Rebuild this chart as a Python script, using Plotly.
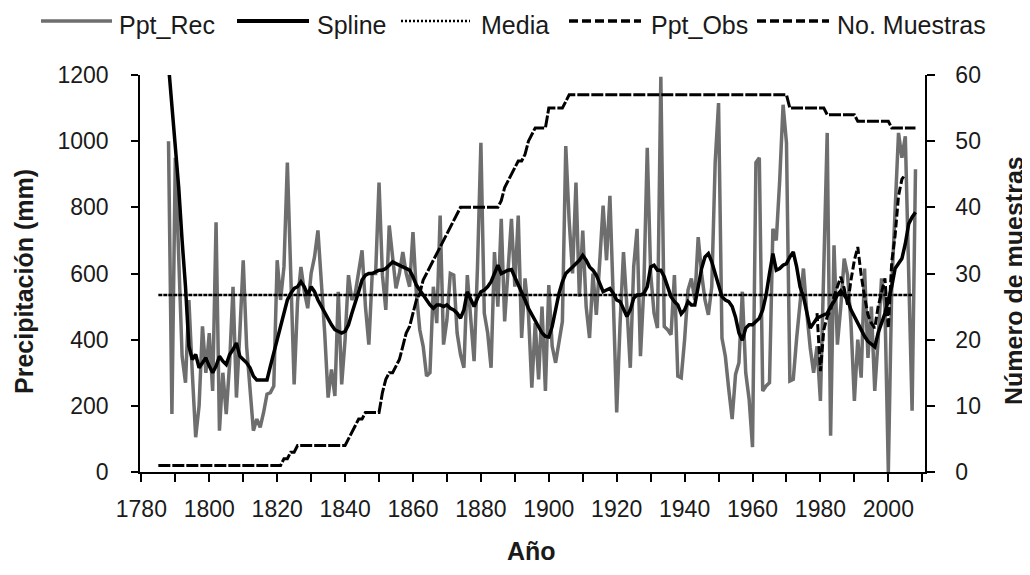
import plotly.graph_objects as go

# ---------------- data ----------------
rec_start = 1788
ppt_rec = [
    1000, 175,
    950, 620, 350, 270, 520, 300, 105, 200, 440, 300,
    420, 245, 755, 125, 300, 175, 330, 560, 225, 420,
    640, 380, 240, 125, 160, 135, 180, 235, 240, 260,
    640, 520, 620, 935, 600, 265, 515, 620, 545, 495,
    600, 650, 730, 580, 420, 225, 310, 230, 545, 265,
    400, 595, 520, 540, 600, 670, 500, 385, 600, 600,
    875, 595, 490, 745, 650, 555, 600, 665, 600, 560,
    725, 540, 430, 380, 290, 300, 560, 450, 775, 385,
    460, 600, 595, 420, 355, 315, 595, 470, 335, 620,
    995, 480, 420, 315, 665, 500, 765, 455, 600, 765,
    560, 775, 405, 585, 480, 255, 450, 280, 500, 245,
    565, 380, 330, 400, 455, 985, 760, 600, 875, 530,
    730, 500, 405, 600, 475, 635, 805, 640, 835, 520,
    180, 450, 665, 500, 315, 620, 735, 350, 560, 980,
    600, 480, 435, 1195, 440, 430, 415, 595, 290, 285,
    400, 550, 585, 520, 710, 600, 520, 475, 560, 935,
    1115, 405, 350, 250, 160, 295, 330, 545, 300, 220,
    75, 935, 950, 245, 260, 270, 735, 700, 880, 1110,
    995, 275, 280, 405, 500, 615, 480, 375, 300, 380,
    215, 620, 1025, 110, 685, 385, 500, 645, 595, 450,
    215, 400, 285, 615, 345, 500, 245, 400, 585, 500,
    0, 560, 800, 1025, 950, 1015, 600, 185, 915,
]
spline = [
    1230, 1110,
    980, 860, 700, 560, 380, 340, 355, 315, 330, 345,
    320, 300, 320, 350, 335, 325, 355, 370, 390, 350,
    340, 330, 315, 290, 278, 278, 278, 278, 320, 360,
    400, 440, 480, 520, 540, 555, 560, 575, 560, 535,
    560, 545, 520, 500, 485, 465, 445, 430, 425, 420,
    425, 445, 480, 510, 545, 580, 595, 600, 600, 605,
    610, 610, 615, 625, 635, 630, 625, 620, 615, 610,
    590, 565, 550, 535, 520, 505, 495, 505, 505, 500,
    505, 495, 490, 480, 465, 490, 545, 520, 500, 525,
    545, 550, 560, 575, 600, 625, 600, 605, 610, 612,
    590, 570, 545, 520, 495, 475, 460, 440, 420, 410,
    408, 440, 490, 540, 575, 600, 610, 620, 630, 640,
    655, 640, 620, 610, 595, 570, 545, 550, 555, 540,
    520, 515, 495, 470, 490, 525, 535, 535, 540, 560,
    620, 625, 610, 610, 590, 560, 530, 515, 505, 478,
    490, 515, 505, 505, 560, 615, 650, 660, 635, 600,
    560, 530, 520, 515, 500, 468, 420, 398, 435, 445,
    445, 455, 465, 490, 535, 600, 660, 610, 615, 625,
    630, 650, 665, 620, 560, 530, 480, 435, 450, 465,
    470, 475, 480, 500, 515, 535, 548, 535, 520, 490,
    470, 445, 430, 410, 395, 385, 378, 420, 450, 480,
    520, 560, 615, 630, 645, 690, 750, 770, 785,
]
obs_start = 1979
ppt_obs = [
    480,
    305, 430, 470, 490, 530, 560, 590, 555, 505, 580,
    640, 680, 595, 530, 475, 450, 435, 500, 545, 585,
    435, 635, 715, 835, 885, 900,
]
media_years = [1785, 2007]
media_value = 535
muestras_start = 1785
muestras = [
    1, 1, 1, 1, 1,
    1, 1, 1, 1, 1, 1, 1, 1, 1, 1,
    1, 1, 1, 1, 1, 1, 1, 1, 1, 1,
    1, 1, 1, 1, 1, 1, 1, 1, 1, 1,
    1, 1, 2, 2, 3, 3, 4, 4, 4, 4,
    4, 4, 4, 4, 4, 4, 4, 4, 4, 4,
    4, 5, 6, 7, 8, 8, 9, 9, 9, 9,
    9, 12, 14, 15, 15, 16, 17, 19, 21, 22,
    24, 26, 27, 29, 30, 31, 32, 33, 34, 35,
    36, 37, 38, 39, 40, 40, 40, 40, 40, 40,
    40, 40, 40, 40, 40, 40, 41, 43, 44, 45,
    46, 47, 47, 48, 50, 51, 52, 52, 52, 52,
    55, 55, 55, 55, 55, 56, 57, 57, 57, 57,
    57, 57, 57, 57, 57, 57, 57, 57, 57, 57,
    57, 57, 57, 57, 57, 57, 57, 57, 57, 57,
    57, 57, 57, 57, 57, 57, 57, 57, 57, 57,
    57, 57, 57, 57, 57, 57, 57, 57, 57, 57,
    57, 57, 57, 57, 57, 57, 57, 57, 57, 57,
    57, 57, 57, 57, 57, 57, 57, 57, 57, 57,
    57, 55, 55, 55, 55, 55, 55, 55, 55, 55,
    55, 55, 54, 54, 54, 54, 54, 54, 54, 54,
    54, 53, 53, 53, 53, 53, 53, 53, 53, 53,
    53, 52, 52, 52, 52, 52, 52, 52, 52,
]
series_names = ["Ppt_Rec", "Spline", "Media", "Ppt_Obs", "No. Muestras"]
x_tick_labels = ["1780", "1800", "1820", "1840", "1860", "1880", "1900",
                 "1920", "1940", "1960", "1980", "2000"]
x_tick_values = [1780, 1800, 1820, 1840, 1860, 1880, 1900, 1920, 1940, 1960, 1980, 2000]

rec_years = [rec_start + i for i in range(len(ppt_rec))]
obs_years = [obs_start + i for i in range(len(ppt_obs))]
mu_years = [muestras_start + i for i in range(len(muestras))]

# ---------------- styles ----------------
GRAY = "#6e6e6e"
styles = [
    dict(color=GRAY, width=3.5),
    dict(color="black", width=3.5),
    dict(color="black", width=2.5, dash="4px,1px"),
    dict(color="black", width=3, dash="8px,3px"),
    dict(color="black", width=3, dash="12px,2px"),
]
legend_styles = [
    dict(color=GRAY, width=3.5),
    dict(color="black", width=4),
    dict(color="black", width=2.5, dash="2px,2px"),
    dict(color="black", width=3.5, dash="9px,4px"),
    dict(color="black", width=3.5, dash="9px,4px"),
]

fig = go.Figure()
fig.add_trace(go.Scatter(x=rec_years, y=ppt_rec, mode="lines", name=series_names[0], line=styles[0]))
fig.add_trace(go.Scatter(x=rec_years, y=spline, mode="lines", name=series_names[1], line=styles[1]))
fig.add_trace(go.Scatter(x=media_years, y=[media_value] * len(media_years), mode="lines",
                         name=series_names[2], line=styles[2]))
fig.add_trace(go.Scatter(x=obs_years, y=ppt_obs, mode="lines", name=series_names[3], line=styles[3]))
fig.add_trace(go.Scatter(x=mu_years, y=muestras, mode="lines", name=series_names[4],
                         line=styles[4], yaxis="y2"))

# plot area geometry in screen pixels (page body has an 8px margin)
OFF = 8
W, H = 1030 - OFF, 575 - OFF
L, R, T, B = 140, 925, 75, 472
pw, ph = R - L, B - T

def px_x(x):
    return (x - L) / pw

def px_y(y):
    return (B - y) / ph

TEXT = "#1a1a1a"
tick_font = dict(family="Liberation Sans, Arial", size=23, color=TEXT)

# manual legend (long line samples like the original)
leg_y = 21
leg_text_y = 25
leg_lines = [(41, 112), (237, 309), (401, 470), (569, 641), (757, 829)]
leg_text_x = [118, 316, 480, 650, 836]
for (x0, x1), st in zip(leg_lines, legend_styles):
    fig.add_shape(type="line", xref="paper", yref="paper",
                  x0=px_x(x0), x1=px_x(x1), y0=px_y(leg_y), y1=px_y(leg_y), line=st)
for name, tx in zip(series_names, leg_text_x):
    fig.add_annotation(text=name, xref="paper", yref="paper", x=px_x(tx), y=px_y(leg_text_y),
                       xanchor="left", yanchor="middle", showarrow=False, borderpad=0,
                       font=dict(family="Liberation Sans, Arial", size=25, color=TEXT))

# axis titles
title_font = dict(family="Liberation Sans, Arial", size=25, color=TEXT)
fig.add_annotation(text="<b>Precipitación (mm)</b>", xref="paper", yref="paper",
                   x=px_x(24), y=px_y(282), textangle=-90, showarrow=False,
                   xanchor="center", yanchor="middle", font=title_font)
fig.add_annotation(text="<b>Número de muestras</b>", xref="paper", yref="paper",
                   x=px_x(1014), y=px_y(281), textangle=-90, showarrow=False,
                   xanchor="center", yanchor="middle", font=title_font)
fig.add_annotation(text="<b>Año</b>", xref="paper", yref="paper",
                   x=px_x(531), y=px_y(551), showarrow=False,
                   xanchor="center", yanchor="middle", font=title_font)

axis_common = dict(showgrid=False, zeroline=False, showline=True, linecolor="black",
                   linewidth=1.5, ticks="outside", tickcolor="black", tickwidth=1.5,
                   tickfont=tick_font)

fig.update_layout(
    width=W, height=H,
    margin=dict(l=L - OFF, r=(1030 - R), t=T - OFF, b=(575 - B), pad=0),
    paper_bgcolor="white", plot_bgcolor="white",
    showlegend=False,
    xaxis=dict(range=[1779.6, 2010.8], tickvals=x_tick_values, ticktext=x_tick_labels,
               ticklen=8, minor=dict(dtick=10, tick0=1780, ticks="outside", ticklen=8,
                                     tickcolor="black", tickwidth=1.5),
               ticklabelstandoff=8, **axis_common),
    yaxis=dict(range=[0, 1200], dtick=200, tick0=0, ticklen=7, ticklabelstandoff=18,
               **axis_common),
    yaxis2=dict(range=[0, 60], dtick=10, tick0=0, ticklen=8, overlaying="y", side="right",
                ticklabelstandoff=16, **axis_common),
)

fig.write_html("out.html")
